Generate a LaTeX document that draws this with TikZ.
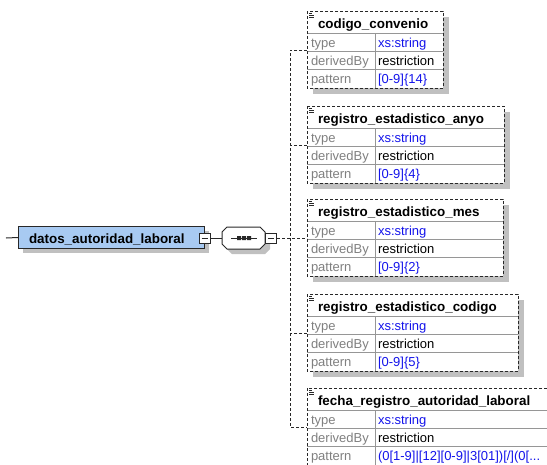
\documentclass[tikz,border=0pt]{standalone}
\usepackage{fontspec}
\setmainfont{Liberation Sans}
\definecolor{elemblue}{RGB}{168,202,242}
\definecolor{shadowgray}{RGB}{192,192,192}
\definecolor{gridgray}{RGB}{150,150,150}
\definecolor{labelgray}{RGB}{128,128,128}
\definecolor{valblue}{RGB}{20,20,235}
\definecolor{edgedark}{RGB}{40,40,40}
\tikzset{
  txt/.style={inner sep=0pt, outer sep=0pt, anchor=base west, font=\fontsize{13}{15}\selectfont},
  ttl/.style={txt, font=\fontsize{13.4}{15}\selectfont\bfseries},
  dashedborder/.style={draw=edgedark, line width=1pt, dash pattern=on 3pt off 2pt},
  conn/.style={draw=edgedark, line width=1pt, dash pattern=on 3pt off 2pt},
  solidline/.style={draw=edgedark, line width=1pt},
  minusbox/.style={draw=edgedark, line width=1pt, fill=white, minimum width=11pt, minimum height=10pt, inner sep=0pt},
}
\newcommand\xsbox[6]{% #1 name, #2 top, #3 right, #4 title, #5 pattern, #6 connector name
  \fill[shadowgray] (313,#2+6) rectangle (#3+6,#2+83);
  \fill[white] (307,#2) rectangle (#3,#2+77);
  \draw[gridgray, line width=0.8pt] (307,#2+22) -- (#3,#2+22) (307,#2+40) -- (#3,#2+40)
     (307,#2+58) -- (#3,#2+58) (375,#2+22) -- (375,#2+77);
  \draw[dashedborder] (307,#2) rectangle (#3,#2+77);
  \draw[edgedark, line width=0.8pt] (309,#2+2.5) -- (312,#2+2.5) (309,#2+4.5) -- (314,#2+4.5) (309,#2+6.5) -- (314,#2+6.5);
  \node[ttl] (#1) at (318,#2+17) {#4};
  \node[txt, text=labelgray] (#1type) at (311,#2+36.5) {type};
  \node[txt, text=labelgray] (#1der) at (311,#2+54.5) {derivedBy};
  \node[txt, text=labelgray] (#1pat) at (311,#2+72.5) {pattern};
  \node[txt, text=valblue] (#1typev) at (378,#2+36.5) {xs:string};
  \node[txt] (#1derv) at (378,#2+54.5) {restriction};
  \node[txt, text=valblue] (#1patv) at (378,#2+72.5) {#5};
  \coordinate (#6) at (307,#2+39);
}
\begin{document}
\begin{tikzpicture}[x=1pt,y=-1pt]
\useasboundingbox (0,0) rectangle (547,464);
\clip (0,0) rectangle (547,464);
\fill[white] (0,0) rectangle (547,464);

% main element
\fill[shadowgray] (23,231) rectangle (209,253);
\node[draw=edgedark, line width=1pt, fill=elemblue, minimum width=186pt, minimum height=22pt, inner sep=0pt, anchor=north west] (main) at (18,226) {};
\node[ttl] (maintext) at (29,243) {datos\_autoridad\_laboral};
\coordinate (in) at (6,238);
\draw[solidline] (in) -- (main.west);
\node[minusbox] (m1) at (204.5,238) {};
\draw[edgedark, line width=1pt] (201.5,238) -- (207.5,238);

% sequence compositor
\fill[shadowgray] (232,232) -- (265,232) -- (270,237) -- (270,249) -- (265,254) -- (232,254) -- (227,249) -- (227,237) -- cycle;
\node[minimum width=43pt, minimum height=22pt, inner sep=0pt] (seq) at (243.5,238) {};
\filldraw[fill=white, draw=edgedark, line width=1pt] (227,227) -- (260,227) -- (265,232) -- (265,244) -- (260,249) -- (227,249) -- (222,244) -- (222,232) -- cycle;
\draw[edgedark, line width=1pt] (231,238) -- (257,238);
\fill[edgedark] (237,236) rectangle (241,240) (242,236) rectangle (246,240) (247,236) rectangle (251,240);
\draw[solidline] (m1.east) -- (seq.west);
\node[minusbox] (m2) at (271,238) {};
\draw[edgedark, line width=1pt] (268,238) -- (274,238);

% child boxes
\xsbox{b1}{11}{443}{codigo\_convenio}{[0-9]\{14\}}{c1}
\xsbox{b2}{106}{504}{registro\_estadistico\_anyo}{[0-9]\{4\}}{c2}
\xsbox{b3}{199}{503}{registro\_estadistico\_mes}{[0-9]\{2\}}{c3}
\xsbox{b4}{294}{518}{registro\_estadistico\_codigo}{[0-9]\{5\}}{c4}
\xsbox{b5}{388}{580}{fecha\_registro\_autoridad\_laboral}{(0[1-9]|[12][0-9]|3[01])[/](0[...}{c5}

% connectors
\coordinate (bus) at (290,238);
\draw[conn] (m2.east) -- (c3);
\draw[conn] (c1) -- (c1 -| bus) -- (c5 -| bus) -- (c5);
\draw[conn] (c2) -- (c2 -| bus);
\draw[conn] (c4) -- (c4 -| bus);
\end{tikzpicture}
\end{document}
